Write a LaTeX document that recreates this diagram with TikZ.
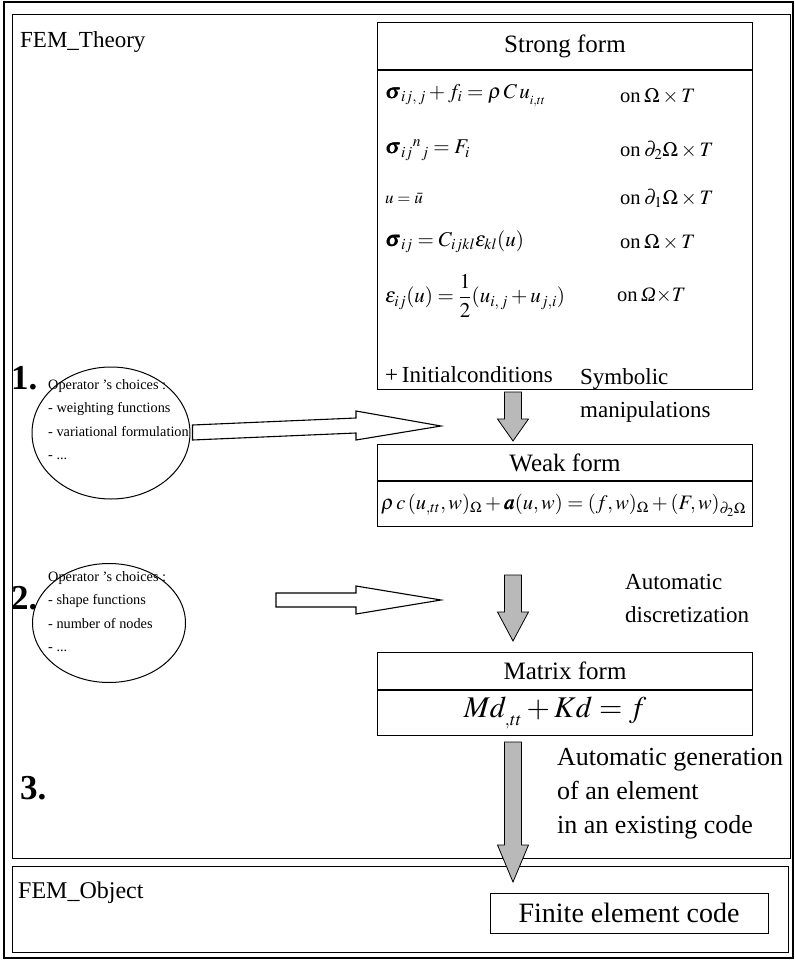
\documentclass[tikz,border=0pt]{standalone}
\usepackage{mathptmx}
\usepackage{amsmath}
\usepackage{bm}
\usepackage{fontspec}
\setmainfont{Liberation Serif}
\usetikzlibrary{shapes.geometric,calc}
\tikzset{
  frameline/.style={draw=black, line width=1.2pt},
  boxnode/.style={draw=black, line width=1.2pt, inner sep=0pt, anchor=north west},
  title/.style={font=\fontsize{25}{27}\selectfont, inner sep=0pt},
  eqn/.style={font=\fontsize{21}{23}\selectfont, anchor=west, inner sep=0pt},
  oncol/.style={font=\fontsize{20.5}{22}\selectfont, anchor=west, inner sep=0pt},
  lbl/.style={font=\fontsize{23}{33}\selectfont, align=left, anchor=north west, inner sep=0pt},
  choices/.style={draw=black, line width=1pt, ellipse, inner sep=0pt},
  ctext/.style={font=\fontsize{14.3}{23.5}\selectfont, align=left, anchor=north west, inner sep=0pt},
  stepnum/.style={font=\bfseries\fontsize{35}{37}\selectfont, anchor=west, inner sep=0pt},
  fatarrow/.style={draw=black, line width=0.8pt, fill=gray!55},
  hollowarrow/.style={draw=black, line width=1.1pt, fill=white},
}
\newcommand\fatdown[5]{% x, ytop, yheadstart, ytip, name
  \draw[fatarrow] (#1-8.5,#2) -- (#1+8.5,#2) -- (#1+8.5,#3) -- (#1+15.5,#3)
     -- (#1,#4) -- (#1-15.5,#3) -- (#1-8.5,#3) -- cycle;
  \coordinate (#5) at (#1,#4);}
\begin{document}
\begin{tikzpicture}[x=1pt,y=-1pt]
\useasboundingbox (0,0) rectangle (795,961);
\fill[white] (0,0) rectangle (795,961);
% outer frames
\draw[frameline] (4,2) rectangle (793,958);
\node[boxnode, minimum width=778pt, minimum height=844pt] (theory) at (12,14) {};
\node[boxnode, minimum width=776pt, minimum height=86pt] (object) at (12,866) {};
\node[font=\fontsize{23}{26}\selectfont, anchor=west, inner sep=0pt] (theorylbl) at (20,42) {FEM\_Theory};
\node[font=\fontsize{24}{26}\selectfont, anchor=west, inner sep=0pt] (objectlbl) at (18,893) {FEM\_Object};

% strong form
\node[boxnode, minimum width=375pt, minimum height=367pt] (strong) at (377,22) {};
\draw[line width=1.2pt] (strong.west |- 0,70) -- (strong.east |- 0,70);
\node[title] (strongt) at (565,46) {Strong form};
\node[eqn] (e1) at (385,96) {$\bm{\sigma}_{ij,\,j}+f_{i}=\rho\,C\,u_{{}_{i,tt}}$};
\node[eqn] (e2) at (385,150) {$\bm{\sigma}_{ij}{}^{n}{}_{j}=F_{i}$};
\node[eqn, font=\fontsize{17}{19}\selectfont] (e3) at (385,198) {$u=\bar{u}$};
\node[eqn] (e4) at (385,242) {$\bm{\sigma}_{ij}=C_{ijkl}\varepsilon_{kl}(u)$};
\node[eqn] (e5) at (385,296) {$\varepsilon_{ij}(u)=\dfrac{1}{2}(u_{i,\,j}+u_{j,i})$};
\node[oncol] (o1) at (620,96) {on\,$\Omega\times T$};
\node[oncol] (o2) at (620,150) {on\,$\partial_{2}\Omega\times T$};
\node[oncol] (o3) at (620,198) {on\,$\partial_{1}\Omega\times T$};
\node[oncol] (o4) at (620,242) {on\,$\Omega\times T$};
\node[oncol] (o5) at (617,296) {on\,\textit{Ω}$\times T$};
\node[lbl, anchor=west] (init) at (385,375) {+\,Initialconditions};

% step 1
\node[stepnum] (n1) at (11,378) {1.};
\node[choices, minimum width=158pt, minimum height=132pt] (ell1) at (111,433) {};
\node[ctext] (c1) at (48,379) {Operator 's choices :\\- weighting functions\\- variational formulation\\- ...};
\draw[hollowarrow] ($(ell1.east)+(2,-8)$) -- (356,418) -- (356,411) -- (441,426) -- (356,440) -- (356,433) -- ($(ell1.east)+(2,7)$) -- cycle;
\fatdown{513}{392}{419}{441}{a1}
\node[lbl] (sym) at (580,368) {Symbolic\\manipulations};

% weak form
\node[boxnode, minimum width=375pt, minimum height=82pt] (weak) at (377,444) {};
\draw[line width=1.2pt] (weak.west |- 0,481) -- (weak.east |- 0,481);
\node[title] (weakt) at (565,463) {Weak form};
\node[eqn, font=\fontsize{20.5}{22}\selectfont] (we) at (381,505) {$\rho\,c\,(u_{,tt},w)_{\Omega}+\bm{a}(u,w)=(f,w)_{\Omega}+(F,w)_{\partial_{2}\Omega}$};

% step 2
\node[stepnum] (n2) at (11,598) {2.};
\node[choices, minimum width=153pt, minimum height=119pt] (ell2) at (109,623) {};
\node[ctext] (c2) at (48,571) {Operator 's choices :\\- shape functions\\- number of nodes\\- ...};
\draw[hollowarrow] (276,593) -- (356,593) -- (356,586) -- (441,600) -- (356,614) -- (356,607) -- (276,607) -- cycle;
\fatdown{513}{575}{612}{641}{a2}
\node[lbl] (disc) at (625,574) {Automatic\\discretization};

% matrix form
\node[boxnode, minimum width=375pt, minimum height=83pt] (matrix) at (377,652) {};
\draw[line width=1.2pt] (matrix.west |- 0,690) -- (matrix.east |- 0,690);
\node[title] (matrixt) at (565,671) {Matrix form};
\node[font=\fontsize{30}{32}\selectfont, inner sep=0pt] (me) at (555,713) {$Md_{{}_{,tt}}+Kd=f$};

% step 3
\node[stepnum] (n3) at (20,788) {3.};
\fatdown{513}{742}{845}{882}{a3}
\node[lbl, font=\fontsize{26}{34}\selectfont] (gen) at (557,748) {Automatic generation\\of an element\\in an existing code};

% finite element code
\node[boxnode, minimum width=278pt, minimum height=40pt] (code) at (490,893) {};
\node[title, font=\fontsize{28}{30}\selectfont] (codet) at (629,913) {Finite element code};
\end{tikzpicture}
\end{document}
